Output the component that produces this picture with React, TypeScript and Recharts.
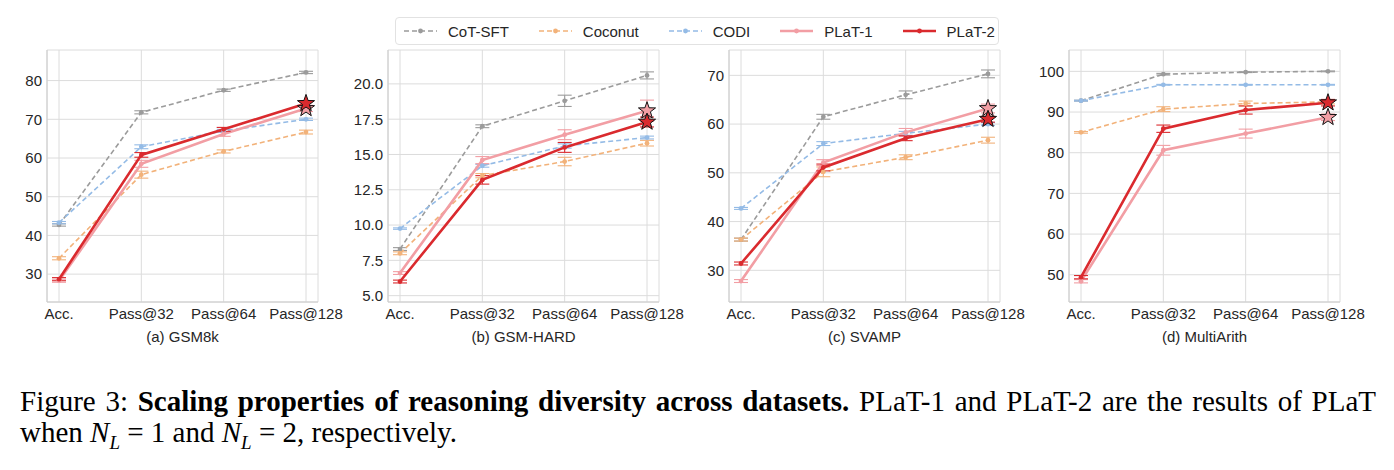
import React from "react";
import { LineChart, Line, XAxis, YAxis, CartesianGrid, ErrorBar } from "recharts";

const steps = ["Acc.", "Pass@32", "Pass@64", "Pass@128"];

// (a) GSM8k
const gsm8kCot = [42.7, 71.8, 77.5, 82.1];
const gsm8kCoconut = [34.1, 55.7, 61.7, 66.7];
const gsm8kCodi = [43.3, 62.9, 67.0, 70.0];
const gsm8kPlat1 = [28.3, 58.5, 66.2, 72.8];
const gsm8kPlat2 = [28.7, 60.8, 67.4, 74.1];
const gsm8kCotErr = [0.3, 0.4, 0.3, 0.3];
const gsm8kCoconutErr = [0.4, 0.9, 0.4, 0.5];
const gsm8kCodiErr = [0.3, 0.5, 0.4, 0.3];
const gsm8kPlat1Err = [0.4, 0.9, 0.6, 0.8];
const gsm8kPlat2Err = [0.4, 0.6, 0.5, 0.6];

// (b) GSM-HARD
const hardCot = [8.3, 17.0, 18.8, 20.6];
const hardCoconut = [8.0, 13.5, 14.5, 15.8];
const hardCodi = [9.75, 14.2, 15.6, 16.2];
const hardPlat1 = [6.6, 14.6, 16.4, 18.1];
const hardPlat2 = [6.0, 13.2, 15.5, 17.3];
const hardCotErr = [0.1, 0.1, 0.4, 0.25];
const hardCoconutErr = [0.1, 0.15, 0.3, 0.2];
const hardCodiErr = [0.05, 0.1, 0.15, 0.1];
const hardPlat1Err = [0.1, 0.25, 0.35, 0.75];
const hardPlat2Err = [0.1, 0.3, 0.35, 0.35];

// (c) SVAMP
const svampCot = [36.3, 61.5, 66.0, 70.3];
const svampCoconut = [36.3, 50.2, 53.2, 56.7];
const svampCodi = [42.7, 56.0, 58.1, 60.0];
const svampPlat1 = [27.8, 52.1, 58.3, 63.2];
const svampPlat2 = [31.4, 51.1, 57.1, 61.0];
const svampCotErr = [0.3, 0.5, 0.8, 0.8];
const svampCoconutErr = [0.3, 1.0, 0.5, 0.6];
const svampCodiErr = [0.2, 0.4, 0.4, 0.3];
const svampPlat1Err = [0.3, 0.6, 0.8, 0.9];
const svampPlat2Err = [0.3, 0.7, 0.5, 0.6];

// (d) MultiArith
const arithCot = [92.8, 99.3, 99.8, 100.0];
const arithCoconut = [85.0, 90.7, 92.1, 92.5];
const arithCodi = [92.8, 96.7, 96.7, 96.7];
const arithPlat1 = [48.4, 80.6, 84.7, 88.7];
const arithPlat2 = [49.4, 85.9, 90.5, 92.3];
const arithCotErr = [0.1, 0.2, 0.1, 0.1];
const arithCoconutErr = [0.2, 0.6, 0.6, 0.5];
const arithCodiErr = [0.1, 0.1, 0.1, 0.1];
const arithPlat1Err = [0.4, 1.2, 1.1, 0.8];
const arithPlat2Err = [0.4, 0.9, 1.0, 0.8];

const seriesKeys = ["cot", "coconut", "codi", "plat1", "plat2"];
const seriesNames = ["CoT-SFT", "Coconut", "CODI", "PLaT-1", "PLaT-2"];
const seriesColors = ["#9b9b9b", "#f2b27a", "#94bbe6", "#f29ea4", "#da2a2e"];
const seriesDashed = [true, true, true, false, false];

const ink = "#262626";
const font = "'Liberation Sans', Arial, sans-serif";
const serif = "'Liberation Serif', 'Times New Roman', serif";

function starPath(cx: number, cy: number, R: number) {
  const r = R * 0.4;
  let d = "";
  for (let i = 0; i < 10; i++) {
    const a = -Math.PI / 2 + (i * Math.PI) / 5;
    const rad = i % 2 === 0 ? R : r;
    d += (i ? "L" : "M") + (cx + rad * Math.cos(a)).toFixed(2) + "," + (cy + rad * Math.sin(a)).toFixed(2);
  }
  return d + "Z";
}

type PanelProps = {
  left: number;
  title: string;
  domain: [number, number];
  ticks: number[];
  decimals: number;
  values: number[][];
  errors: number[][];
};

function Panel({ left, title, domain, ticks, decimals, values, errors }: PanelProps) {
  const rows = steps.map((step, i) => {
    const row: Record<string, number | string> = { step };
    seriesKeys.forEach((k, j) => {
      row[k] = values[j][i];
      row[k + "Err"] = errors[j][i];
    });
    return row;
  });

  return (
    <div style={{ position: "absolute", left: left - 45, top: 45 }}>
      <LineChart
        width={351}
        height={302}
        data={rows}
        margin={{ top: 5, right: 35, bottom: 0, left: 0 }}
        style={{ overflow: "visible" }}
      >
        <CartesianGrid stroke="#dcdcdc" strokeWidth={1} />
        <XAxis
          dataKey="step"
          scale="point"
          padding={{ left: 12, right: 12 }}
          height={45}
          interval={0}
          tickSize={0}
          tickMargin={6}
          axisLine={{ stroke: "#cccccc" }}
          tick={{ fill: ink, fontSize: 15, fontFamily: font }}
          label={{ value: title, position: "insideBottom", offset: 5, fill: ink, fontSize: 15, fontFamily: font }}
        />
        <YAxis
          type="number"
          domain={domain}
          ticks={ticks}
          allowDataOverflow
          width={45}
          tickSize={0}
          tickMargin={5}
          axisLine={{ stroke: "#cccccc" }}
          tick={{ fill: ink, fontSize: 15, fontFamily: font }}
          tickFormatter={(v: number) => v.toFixed(decimals)}
        />
        {seriesKeys.map((k, j) => {
          const color = seriesColors[j];
          const starred = !seriesDashed[j];
          return (
            <Line
              key={k}
              dataKey={k}
              stroke={color}
              strokeWidth={seriesDashed[j] ? 1.6 : 2.6}
              strokeDasharray={seriesDashed[j] ? "5 3" : undefined}
              isAnimationActive={false}
              dot={(p: any) =>
                starred && p.index === steps.length - 1 ? (
                  <path key={`dot-${k}-${p.index}`} d={starPath(p.cx, p.cy, 9)} fill={color} stroke="#111" strokeWidth={1} />
                ) : (
                  <circle key={`dot-${k}-${p.index}`} cx={p.cx} cy={p.cy} r={2.4} fill={color} />
                )
              }
            >
              <ErrorBar dataKey={k + "Err"} width={7} stroke={color} strokeWidth={1.1} direction="y" />
            </Line>
          );
        })}
      </LineChart>
    </div>
  );
}

function LegendBox() {
  return (
    <div
      style={{
        position: "absolute",
        left: 395,
        top: 17,
        width: 604,
        height: 28,
        border: "1px solid #e2e2e2",
        borderRadius: 4,
        background: "#fff",
        display: "flex",
        alignItems: "center",
        paddingLeft: 8,
        boxSizing: "border-box",
        fontFamily: font,
        fontSize: 15,
        color: ink,
        whiteSpace: "nowrap",
      }}
    >
      {seriesNames.map((name, j) => (
        <div key={name} style={{ display: "flex", alignItems: "center", marginRight: 30, flexShrink: 0 }}>
          <svg width={33} height={12} style={{ marginRight: 11, flexShrink: 0 }}>
            <line
              x1={0}
              y1={6}
              x2={33}
              y2={6}
              stroke={seriesColors[j]}
              strokeWidth={seriesDashed[j] ? 1.6 : 2.6}
              strokeDasharray={seriesDashed[j] ? "5 3" : undefined}
            />
            <circle cx={16.5} cy={6} r={2.4} fill={seriesColors[j]} />
          </svg>
          <span>{name}</span>
        </div>
      ))}
    </div>
  );
}

export default function App() {
  const sub = { fontSize: 19, lineHeight: 0 };
  return (
    <div style={{ position: "absolute", left: 0, top: 0, width: 1394, height: 470, background: "#fff", overflow: "hidden" }}>
      <Panel
        left={47}
        title="(a) GSM8k"
        domain={[22.8, 87.9]}
        ticks={[30, 40, 50, 60, 70, 80]}
        decimals={0}
        values={[gsm8kCot, gsm8kCoconut, gsm8kCodi, gsm8kPlat1, gsm8kPlat2]}
        errors={[gsm8kCotErr, gsm8kCoconutErr, gsm8kCodiErr, gsm8kPlat1Err, gsm8kPlat2Err]}
      />
      <Panel
        left={388}
        title="(b) GSM-HARD"
        domain={[4.55, 22.4]}
        ticks={[5, 7.5, 10, 12.5, 15, 17.5, 20]}
        decimals={1}
        values={[hardCot, hardCoconut, hardCodi, hardPlat1, hardPlat2]}
        errors={[hardCotErr, hardCoconutErr, hardCodiErr, hardPlat1Err, hardPlat2Err]}
      />
      <Panel
        left={729}
        title="(c) SVAMP"
        domain={[23.5, 75.2]}
        ticks={[30, 40, 50, 60, 70]}
        decimals={0}
        values={[svampCot, svampCoconut, svampCodi, svampPlat1, svampPlat2]}
        errors={[svampCotErr, svampCoconutErr, svampCodiErr, svampPlat1Err, svampPlat2Err]}
      />
      <Panel
        left={1069}
        title="(d) MultiArith"
        domain={[43.3, 105.25]}
        ticks={[50, 60, 70, 80, 90, 100]}
        decimals={0}
        values={[arithCot, arithCoconut, arithCodi, arithPlat1, arithPlat2]}
        errors={[arithCotErr, arithCoconutErr, arithCodiErr, arithPlat1Err, arithPlat2Err]}
      />
      <LegendBox />
      <div style={{ position: "absolute", left: 20, top: 386, width: 1356, fontFamily: serif, fontSize: 29, lineHeight: "31px", color: "#000" }}>
        <div style={{ textAlign: "justify", textAlignLast: "justify", whiteSpace: "nowrap" }}>
          Figure 3: <b>Scaling properties of reasoning diversity across datasets.</b> PLaT-1 and PLaT-2 are the results of PLaT
        </div>
        <div>
          when <i>N</i>
          <sub style={sub}>
            <i>L</i>
          </sub>{" "}
          = 1 and <i>N</i>
          <sub style={sub}>
            <i>L</i>
          </sub>{" "}
          = 2, respectively.
        </div>
      </div>
    </div>
  );
}
